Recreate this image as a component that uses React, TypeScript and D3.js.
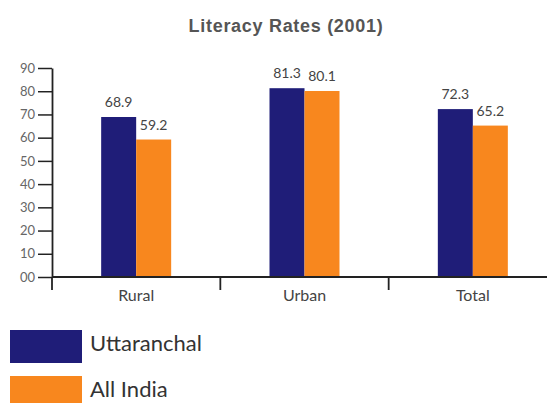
import React, { useEffect, useRef } from 'react';
import * as d3 from 'd3';

const title = 'Literacy Rates (2001)';
const categories = ['Rural', 'Urban', 'Total'];
const seriesNames = ['Uttaranchal', 'All India'];
const uttaranchal = [68.9, 81.3, 72.3];
const allIndia = [59.2, 80.1, 65.2];
const yTicks = [0, 10, 20, 30, 40, 50, 60, 70, 80, 90];

const colors = ['#1f1d78', '#f8871e'];
const labelFont = 'Lato, "Open Sans", sans-serif';

const App: React.FC = () => {
  const svgRef = useRef<SVGSVGElement>(null);

  useEffect(() => {
    if (!svgRef.current) return;
    const svg = d3.select(svgRef.current);
    svg.selectAll('*').remove();

    const width = 547;
    const height = 403;

    const x = d3.scaleBand<string>().domain(categories).range([52, 557]).padding(0);
    const inner = d3.scaleBand<string>()
      .domain(seriesNames)
      .range([x.bandwidth() / 2 - 35, x.bandwidth() / 2 + 35])
      .padding(0);
    const y = d3.scaleLinear().domain([0, 90]).range([277, 68]);

    svg.append('rect').attr('width', width).attr('height', height).attr('fill', '#fff');

    // Title
    svg.append('text')
      .attr('x', 286)
      .attr('y', 32)
      .attr('text-anchor', 'middle')
      .attr('font-family', '"Liberation Sans", Arial, sans-serif')
      .attr('font-weight', 'bold')
      .attr('font-size', 18)
      .attr('letter-spacing', 0.7)
      .attr('fill', '#555')
      .text(title);

    const data = categories.map((c, i) => ({
      cat: c,
      values: [
        { name: seriesNames[0], value: uttaranchal[i] },
        { name: seriesNames[1], value: allIndia[i] },
      ],
    }));

    // Bars
    const groups = svg.append('g')
      .selectAll('g')
      .data(data)
      .join('g')
      .attr('transform', d => `translate(${x(d.cat)},0)`);

    groups.selectAll('rect')
      .data(d => d.values)
      .join('rect')
      .attr('x', d => inner(d.name)!)
      .attr('width', inner.bandwidth())
      .attr('y', d => y(d.value))
      .attr('height', d => y(0) - y(d.value))
      .attr('fill', (d, i) => colors[i]);

    groups.selectAll('text')
      .data(d => d.values)
      .join('text')
      .attr('x', d => inner(d.name)! + inner.bandwidth() / 2)
      .attr('y', d => y(d.value) - 10)
      .attr('text-anchor', 'middle')
      .attr('font-family', labelFont)
      .attr('font-size', 14)
      .attr('fill', '#444')
      .text(d => d.value.toFixed(1));

    // Y axis
    const yAxis = svg.append('g')
      .attr('transform', 'translate(52,0)')
      .call(
        d3.axisLeft(y)
          .tickValues(yTicks)
          .tickSize(14)
          .tickSizeOuter(0)
          .tickPadding(3)
          .tickFormat(d3.format('02d') as any)
      );
    yAxis.select('.domain').attr('stroke', '#222').attr('stroke-width', 1.8);
    yAxis.selectAll('.tick line').attr('stroke', '#222').attr('stroke-width', 1.5);
    yAxis.selectAll('.tick text')
      .attr('font-family', labelFont)
      .attr('font-size', 13)
      .attr('fill', '#666');

    // X axis line and boundary ticks
    svg.append('line')
      .attr('x1', 52)
      .attr('x2', width)
      .attr('y1', y(0))
      .attr('y2', y(0))
      .attr('stroke', '#222')
      .attr('stroke-width', 1.8);

    svg.append('g')
      .selectAll('line')
      .data(categories)
      .join('line')
      .attr('x1', d => x(d)!)
      .attr('x2', d => x(d)!)
      .attr('y1', y(0))
      .attr('y2', y(0) + 13)
      .attr('stroke', '#222')
      .attr('stroke-width', 1.8);

    svg.append('g')
      .selectAll('text')
      .data(categories)
      .join('text')
      .attr('x', d => x(d)! + x.bandwidth() / 2)
      .attr('y', 301)
      .attr('text-anchor', 'middle')
      .attr('font-family', labelFont)
      .attr('font-size', 16)
      .attr('fill', '#444')
      .text(d => d);

    // Legend
    const legend = svg.append('g')
      .selectAll('g')
      .data(seriesNames)
      .join('g')
      .attr('transform', (d, i) => `translate(10,${330 + i * 46})`);

    legend.append('rect')
      .attr('width', 72)
      .attr('height', 33)
      .attr('fill', (d, i) => colors[i]);

    legend.append('text')
      .attr('x', 80)
      .attr('y', 21)
      .attr('font-family', labelFont)
      .attr('font-size', 22)
      .attr('fill', '#333')
      .text(d => d);
  }, []);

  return (
    <div style={{ position: 'absolute', top: 0, left: 0 }}>
      <svg ref={svgRef} width={547} height={403} style={{ display: 'block' }}></svg>
    </div>
  );
};

export default App;
